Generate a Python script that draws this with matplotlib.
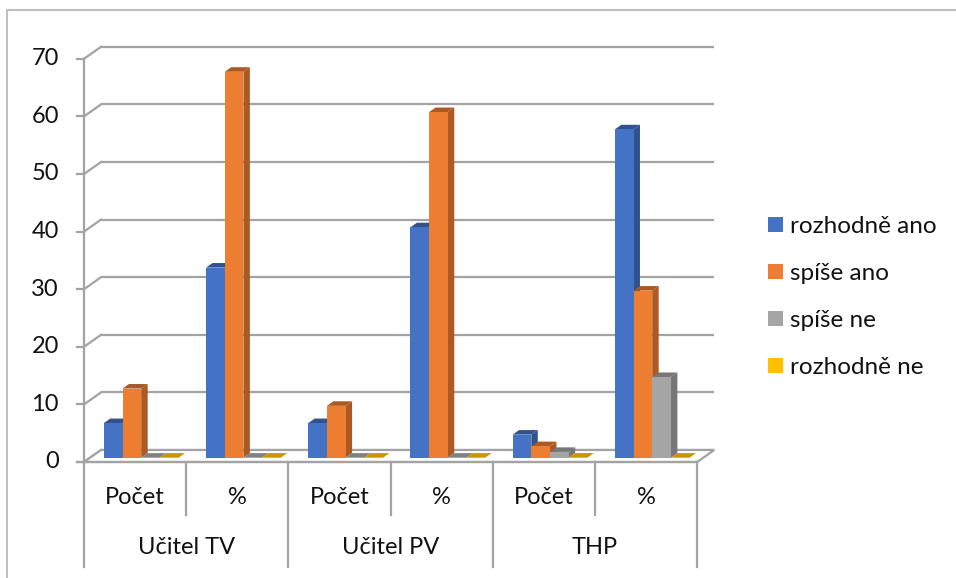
import matplotlib
matplotlib.use("Agg")
import matplotlib.pyplot as plt
from matplotlib.patches import Polygon, Rectangle
from matplotlib.colors import to_rgb

plt.rcParams['font.family'] = ['Lato', 'DejaVu Sans']

# ---- data ----
groups = ["Učitel TV", "Učitel PV", "THP"]
subcats = ["Počet", "%", "Počet", "%", "Počet", "%"]
series = ["rozhodně ano", "spíše ano", "spíše ne", "rozhodně ne"]
rozhodne_ano = [6, 33, 6, 40, 4, 57]
spise_ano = [12, 67, 9, 60, 2, 29]
spise_ne = [0, 0, 0, 0, 1, 14]
rozhodne_ne = [0, 0, 0, 0, 0, 0]
yticks = [0, 10, 20, 30, 40, 50, 60, 70]

values = [rozhodne_ano, spise_ano, spise_ne, rozhodne_ne]
colors = ["#4472C4", "#ED7D31", "#A5A5A5", "#FFC000"]

def shade(c, k=0.72):
    r, g, b = to_rgb(c)
    return (r * k, g * k, b * k)

# ---- figure & pseudo-3D geometry ----
W, H = 956, 578
fig = plt.figure(figsize=(W / 100, H / 100), dpi=100)
ax = fig.add_axes([0, 0, 1, 1])

X0, CAT = 84, 102.2          # pixel x of first category edge, pixels per category
Y0, UNIT = 462, 5.76         # pixel y of value 0, pixels per value unit
ax.set_xlim(-X0 / CAT, (W - X0) / CAT)
ax.set_ylim((Y0 - H) / UNIT, Y0 / UNIT)
ax.axis("off")

px = 1 / CAT                  # one pixel in x data units
py = 1 / UNIT                 # one pixel in y data units
DX, DY = 17 * px, 12 * py     # wall depth offset
GRID = "#A3A3A3"
TXT = "#111111"
FS = 17
ncat = len(subcats)

# back wall gridlines and side diagonals
for v in yticks:
    ax.plot([DX, ncat + DX], [v + DY, v + DY], color=GRID, lw=1.6, zorder=1,
            solid_capstyle="butt")
    ax.plot([0, DX], [v, v + DY], color=GRID, lw=1.6, zorder=1)
    ax.plot([-7 * px, 0], [v, v], color=GRID, lw=1.6, zorder=1)
    ax.text(-25 * px, v, str(v), ha="right", va="center", fontsize=FS, color=TXT)

# floor
ax.add_patch(Polygon([(0, 0), (ncat, 0), (ncat + DX, DY), (DX, DY)], closed=True,
                     facecolor="white", edgecolor=GRID, lw=1.6, zorder=1.5))

# front value axis
ax.plot([0, 0], [0, 70], color=GRID, lw=1.6, zorder=1)

# bars
w = 0.183
f1, f2 = 0.36, 0.74
ddx, ddy = (f2 - f1) * DX, (f2 - f1) * DY
base = f1 * DY
handles = []
for s, (vals, col) in enumerate(zip(values, colors)):
    xs = [c + 0.5 - 2 * w + s * w + f1 * DX for c in range(ncat)]
    dark = shade(col)
    for x, v in zip(xs, vals):
        top = base + v
        if v > 0:
            ax.add_patch(Polygon([(x + w, base), (x + w, top), (x + w + ddx, top + ddy),
                                  (x + w + ddx, base + ddy)], closed=True,
                                 facecolor=dark, edgecolor="none", zorder=3 + s))
        ax.add_patch(Polygon([(x, top), (x + w, top), (x + w + ddx, top + ddy),
                              (x + ddx, top + ddy)], closed=True,
                             facecolor=dark if v > 0 else shade(col, 0.78),
                             edgecolor="none", zorder=3 + s))
    bc = ax.bar(xs, vals, width=w, bottom=base, align="edge", color=col,
                edgecolor="none", zorder=3.5 + s, label=series[s])
    handles.append(bc)

# category axis with multi-level labels
ax.plot([-7 * px, ncat], [0, 0], color=GRID, lw=1.6, zorder=2)
y_sub_end = (Y0 - 515) * py
y_grp_end = (Y0 - 567) * py
for c in range(ncat + 1):
    end = y_grp_end if c % 2 == 0 else y_sub_end
    ax.plot([c, c], [0, end], color=GRID, lw=1.6, zorder=2)
for c, lab in enumerate(subcats):
    ax.text(c + 0.5, (Y0 - 497) * py, lab, ha="center", va="center",
            fontsize=FS, color=TXT)
for g, lab in enumerate(groups):
    ax.text(2 * g + 1, (Y0 - 548) * py, lab, ha="center", va="center",
            fontsize=FS, color=TXT)

# legend
ax.legend(handles=handles, labels=series, loc="upper left",
          bbox_to_anchor=(768 / W, 1 - 216 / H), frameon=False, fontsize=17.5,
          handlelength=0.6, handleheight=0.6, handletextpad=0.3,
          labelspacing=1.07, borderpad=0, borderaxespad=0, labelcolor=TXT)

# outer chart frame
fig.add_artist(Rectangle((7 / W, -0.05), 1.2, 1.05 - 10 / H, transform=fig.transFigure,
                         fill=False, edgecolor="#BFBFBF", lw=1.5))

fig.savefig("out.png", dpi=100)
